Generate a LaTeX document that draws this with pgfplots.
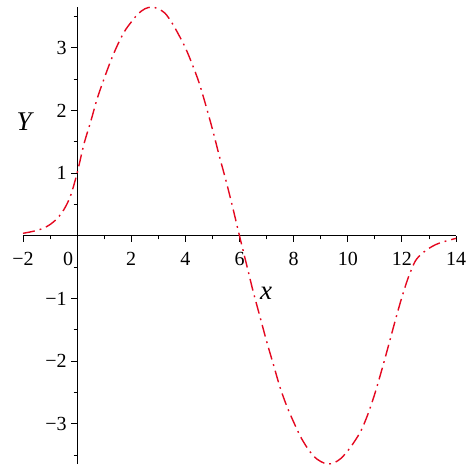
\documentclass[border=0pt]{standalone}
\usepackage{pgfplots}
\pgfplotsset{compat=1.18}
\usepackage{fontspec}
\setmainfont{Liberation Serif}
\definecolor{curvered}{RGB}{228,8,32}

\begin{document}
\begin{tikzpicture}
\path[use as bounding box] (-23pt,-10pt) rectangle (451pt,464pt);
\begin{axis}[
  at={(0,0)}, anchor=south west,
  scale only axis, width=433pt, height=457pt,
  axis lines=middle,
  axis line style={-, line width=1.1pt},
  xmin=-2, xmax=14, ymin=-3.64, ymax=3.65,
  enlargelimits=false,
  xtick={-2,0,...,14},
  xticklabels={\textnormal{−2},,\textnormal{2},\textnormal{4},\textnormal{6},\textnormal{8},\textnormal{10},\textnormal{12},\textnormal{14}},
  minor xtick={-1,1,...,13},
  ytick={-3,-2,-1,1,2,3},
  yticklabels={\textnormal{−3},\textnormal{−2},\textnormal{−1},\textnormal{1},\textnormal{2},\textnormal{3}},
  minor ytick={-3.5,-2.5,...,3.5},
  tick align=outside,
  major tick length=6pt,
  minor tick length=3.5pt,
  tick style={black, line width=0.8pt},
  tick label style={font=\fontsize{20}{20}\selectfont},
  xticklabel style={yshift=-7pt},
  yticklabel style={xshift=-1pt},
  clip=false,
]
\addplot[curvered, line width=1.4pt, smooth, tension=0.5,
  dash pattern=on 12pt off 5pt on 1.8pt off 5pt] table {
x y
-2.0 0.04
-1.75 0.06
-1.5 0.085
-1.25 0.12
-1.0 0.18
-0.75 0.27
-0.5 0.41
-0.25 0.63
0 1.0
0.25 1.46
0.5 1.82
0.75 2.2
1.0 2.51
1.25 2.8
1.5 3.05
1.75 3.26
2.0 3.41
2.25 3.54
2.5 3.62
2.75 3.65
3.0 3.62
3.25 3.55
3.5 3.40
3.75 3.21
4.0 3.0
4.25 2.74
4.5 2.45
4.75 2.09
5.0 1.70
5.25 1.28
5.5 0.88
5.75 0.45
6.0 0.0
6.25 -0.44
6.5 -0.88
6.75 -1.28
7.0 -1.68
7.25 -2.05
7.5 -2.42
7.75 -2.72
8.0 -2.97
8.25 -3.2
8.5 -3.38
8.75 -3.52
9.0 -3.6
9.25 -3.64
9.5 -3.62
9.75 -3.55
10.0 -3.43
10.25 -3.28
10.5 -3.1
10.75 -2.84
11.0 -2.52
11.25 -2.15
11.5 -1.76
11.75 -1.36
12.0 -0.98
12.25 -0.65
12.5 -0.40
12.75 -0.28
13.0 -0.20
13.25 -0.14
13.5 -0.10
13.75 -0.07
14.0 -0.04
};
\node[font=\fontsize{20}{20}\selectfont] at (axis cs:-0.33,-0.37) {0};
\node[font=\fontsize{27}{27}\selectfont\itshape] at (axis cs:-1.96,1.82) {Y};
\node[font=\fontsize{27}{27}\selectfont\itshape] at (axis cs:6.98,-0.91) {x};
\end{axis}
\end{tikzpicture}
\end{document}
